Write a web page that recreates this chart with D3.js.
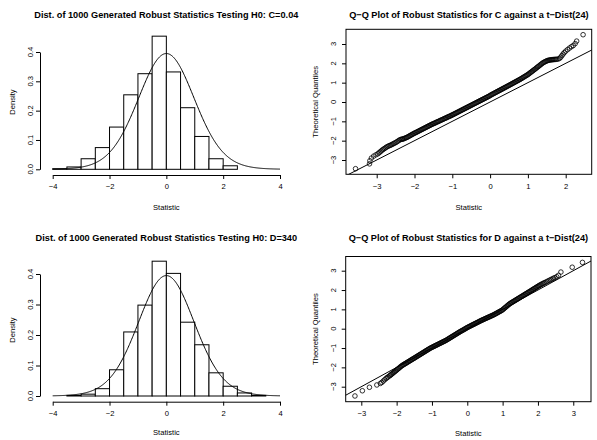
<!DOCTYPE html>
<html>
<head>
<meta charset="utf-8">
<script src="https://cdn.jsdelivr.net/npm/d3@7"></script>
<style>
  body { margin: 0; background: #fff; }
  svg { display: block; }
  text { font-family: "Liberation Sans", Arial, Helvetica, sans-serif; }
</style>
</head>
<body>
<script>
var width = 597,
    height = 440;

// Histogram data (density per bin of width 0.5)
var breaksC = [-4, -3.5, -3, -2.5, -2, -1.5, -1, -0.5, 0, 0.5, 1, 1.5, 2, 2.5];
var densC = [0.002, 0.008, 0.036, 0.074, 0.144, 0.254, 0.326, 0.454, 0.332, 0.21, 0.112, 0.036, 0.012];

var breaksD = [-3.5, -3, -2.5, -2, -1.5, -1, -0.5, 0, 0.5, 1, 1.5, 2, 2.5, 3, 3.5];
var densD = [0.002, 0.006, 0.024, 0.086, 0.21, 0.298, 0.442, 0.402, 0.242, 0.168, 0.076, 0.032, 0.01, 0.002];

var tDf = 24;

var histTicksX = [-4, -2, 0, 2, 4];
var histTicksY = [0, 0.1, 0.2, 0.3, 0.4];
var qqTicksXC = [-3, -2, -1, 0, 1, 2];
var qqTicksXD = [-3, -2, -1, 0, 1, 2, 3];
var qqTicksY = [-3, -2, -1, 0, 1, 2, 3];

// Q-Q points: [statistic, theoretical quantile]
var qqC = [
  [-3.56,-3.45],[-3.19,-3.20],[-3.18,-3.04],[-3.14,-2.90],[-3.08,-2.80],[-3.02,-2.73],
  [-2.97,-2.68],[-2.94,-2.63],[-2.91,-2.58],[-2.88,-2.53],[-2.85,-2.48],[-2.82,-2.44],[-2.79,-2.40],
  [-2.76,-2.36],[-2.73,-2.32],[-2.70,-2.29],[-2.67,-2.26],[-2.64,-2.24],[-2.61,-2.21],[-2.58,-2.18],
  [-2.55,-2.15],[-2.52,-2.12],[-2.49,-2.09],[-2.46,-2.05],[-2.43,-2.01],[-2.40,-1.97],[-2.37,-1.94],
  [-2.34,-1.93],[-2.32,-1.92],
  [-2.300,-1.910],[-2.275,-1.890],[-2.250,-1.870],[-2.225,-1.850],[-2.200,-1.830],[-2.175,-1.803],
  [-2.150,-1.775],[-2.125,-1.748],[-2.100,-1.720],[-2.075,-1.693],[-2.050,-1.665],[-2.025,-1.638],
  [-2.000,-1.610],[-1.975,-1.590],[-1.950,-1.565],[-1.925,-1.540],[-1.900,-1.515],[-1.875,-1.490],
  [-1.850,-1.465],[-1.825,-1.440],[-1.800,-1.415],[-1.775,-1.390],[-1.750,-1.365],[-1.725,-1.340],
  [-1.700,-1.315],[-1.675,-1.290],[-1.650,-1.265],[-1.625,-1.240],[-1.600,-1.215],[-1.575,-1.190],
  [-1.550,-1.165],[-1.525,-1.140],[-1.500,-1.120],[-1.475,-1.100],[-1.450,-1.080],[-1.425,-1.050],
  [-1.400,-1.030],[-1.375,-1.010],[-1.350,-0.990],[-1.325,-0.960],[-1.300,-0.940],[-1.275,-0.920],
  [-1.250,-0.900],[-1.225,-0.870],[-1.200,-0.850],[-1.175,-0.830],[-1.150,-0.810],[-1.125,-0.780],
  [-1.100,-0.760],[-1.075,-0.740],[-1.050,-0.720],[-1.025,-0.690],[-1.000,-0.670],[-0.975,-0.645],
  [-0.950,-0.620],[-0.925,-0.595],[-0.900,-0.570],[-0.875,-0.545],[-0.850,-0.520],[-0.825,-0.495],
  [-0.800,-0.470],[-0.775,-0.445],[-0.750,-0.420],[-0.725,-0.395],[-0.700,-0.370],[-0.675,-0.345],
  [-0.650,-0.320],[-0.625,-0.295],[-0.600,-0.270],[-0.575,-0.245],[-0.550,-0.220],[-0.525,-0.195],
  [-0.500,-0.170],[-0.475,-0.145],[-0.450,-0.120],[-0.425,-0.095],[-0.400,-0.070],[-0.375,-0.045],
  [-0.350,-0.020],[-0.325,0.005],[-0.300,0.030],[-0.275,0.055],[-0.250,0.080],[-0.225,0.105],
  [-0.200,0.130],[-0.175,0.155],[-0.150,0.180],[-0.125,0.205],[-0.100,0.230],[-0.075,0.255],
  [-0.050,0.280],[-0.025,0.305],[0.000,0.335],[0.025,0.366],[0.050,0.392],[0.075,0.418],
  [0.100,0.444],[0.125,0.470],[0.150,0.496],[0.175,0.522],[0.200,0.548],[0.225,0.574],
  [0.250,0.600],[0.275,0.626],[0.300,0.652],[0.325,0.678],[0.350,0.704],[0.375,0.730],
  [0.400,0.756],[0.425,0.782],[0.450,0.808],[0.475,0.834],[0.500,0.860],[0.525,0.887],
  [0.550,0.913],[0.575,0.940],[0.600,0.967],[0.625,0.993],[0.650,1.020],[0.675,1.047],
  [0.700,1.073],[0.725,1.100],[0.750,1.127],[0.775,1.153],[0.800,1.180],[0.825,1.210],
  [0.850,1.240],[0.875,1.270],[0.900,1.300],[0.925,1.330],[0.950,1.360],[0.975,1.390],
  [1.000,1.420],[1.025,1.458],[1.050,1.495],[1.075,1.533],[1.100,1.570],[1.125,1.608],
  [1.150,1.645],[1.175,1.683],[1.200,1.720],[1.225,1.759],[1.250,1.798],[1.275,1.836],
  [1.300,1.875],[1.325,1.914],[1.350,1.953],[1.375,1.991],[1.400,2.030],[1.425,2.055],
  [1.450,2.080],[1.475,2.105],[1.500,2.130],[1.525,2.145],[1.550,2.160],[1.575,2.170],
  [1.600,2.180],[1.625,2.185],[1.650,2.190],[1.675,2.195],[1.700,2.200],[1.730,2.205],
  [1.760,2.210],[1.800,2.220],[1.840,2.260],[1.870,2.320],[1.900,2.400],[1.930,2.480],
  [1.960,2.550],[2.000,2.630],[2.05,2.71],[2.10,2.79],[2.15,2.86],[2.20,2.92],[2.25,3.02],
  [2.29,3.15],[2.46,3.48]
];

var qqD = [
  [-3.18,-3.48],[-2.97,-3.21],[-2.77,-3.03],[-2.56,-2.91],[-2.46,-2.83],[-2.42,-2.78],[-2.38,-2.71],
  [-2.34,-2.64],[-2.30,-2.58],[-2.27,-2.53],[-2.24,-2.49],
  [-2.200,-2.440],[-2.175,-2.403],[-2.150,-2.365],[-2.125,-2.328],[-2.100,-2.290],[-2.075,-2.253],
  [-2.050,-2.215],[-2.025,-2.178],[-2.000,-2.140],[-1.975,-2.102],[-1.950,-2.063],[-1.925,-2.025],
  [-1.900,-1.987],[-1.875,-1.948],[-1.850,-1.910],[-1.825,-1.882],[-1.800,-1.854],[-1.775,-1.826],
  [-1.750,-1.799],[-1.725,-1.771],[-1.700,-1.743],[-1.675,-1.715],[-1.650,-1.687],[-1.625,-1.659],
  [-1.600,-1.631],[-1.575,-1.603],[-1.550,-1.574],[-1.525,-1.547],[-1.500,-1.520],[-1.475,-1.492],
  [-1.450,-1.463],[-1.425,-1.435],[-1.400,-1.407],[-1.375,-1.378],[-1.350,-1.350],[-1.325,-1.322],
  [-1.300,-1.293],[-1.275,-1.265],[-1.250,-1.237],[-1.225,-1.208],[-1.200,-1.180],[-1.175,-1.152],
  [-1.150,-1.123],[-1.125,-1.095],[-1.100,-1.067],[-1.075,-1.038],[-1.050,-1.010],[-1.025,-0.987],
  [-1.000,-0.964],[-0.975,-0.942],[-0.950,-0.919],[-0.925,-0.897],[-0.900,-0.873],[-0.875,-0.851],
  [-0.850,-0.828],[-0.825,-0.806],[-0.800,-0.782],[-0.775,-0.760],[-0.750,-0.737],[-0.725,-0.715],
  [-0.700,-0.691],[-0.675,-0.669],[-0.650,-0.646],[-0.625,-0.624],[-0.600,-0.600],[-0.575,-0.572],
  [-0.550,-0.544],[-0.525,-0.516],[-0.500,-0.488],[-0.475,-0.459],[-0.450,-0.431],[-0.425,-0.403],
  [-0.400,-0.375],[-0.375,-0.347],[-0.350,-0.319],[-0.325,-0.291],[-0.300,-0.263],[-0.275,-0.234],
  [-0.250,-0.206],[-0.225,-0.178],[-0.200,-0.150],[-0.175,-0.124],[-0.150,-0.099],[-0.125,-0.074],
  [-0.100,-0.048],[-0.075,-0.022],[-0.050,0.004],[-0.025,0.034],[0.000,0.060],[0.025,0.083],
  [0.050,0.106],[0.075,0.131],[0.100,0.153],[0.125,0.176],[0.150,0.199],[0.175,0.222],
  [0.200,0.245],[0.225,0.268],[0.250,0.291],[0.275,0.314],[0.300,0.337],[0.325,0.360],
  [0.350,0.384],[0.375,0.407],[0.400,0.430],[0.425,0.451],[0.450,0.471],[0.475,0.492],
  [0.500,0.513],[0.525,0.534],[0.550,0.554],[0.575,0.575],[0.600,0.596],[0.625,0.617],
  [0.650,0.637],[0.675,0.658],[0.700,0.679],[0.725,0.700],[0.750,0.720],[0.775,0.746],
  [0.800,0.771],[0.825,0.796],[0.850,0.821],[0.875,0.847],[0.900,0.872],[0.925,0.897],
  [0.950,0.922],[0.975,0.948],[1.000,0.980],[1.025,1.019],[1.050,1.058],[1.075,1.096],
  [1.100,1.135],[1.125,1.174],[1.150,1.213],[1.175,1.251],[1.200,1.290],[1.225,1.318],
  [1.250,1.346],[1.275,1.374],[1.300,1.402],[1.325,1.430],[1.350,1.458],[1.375,1.486],
  [1.400,1.514],[1.425,1.542],[1.450,1.570],[1.475,1.598],[1.500,1.626],[1.525,1.654],
  [1.550,1.682],[1.575,1.710],[1.600,1.738],[1.625,1.766],[1.650,1.794],[1.675,1.822],
  [1.700,1.850],[1.725,1.879],[1.750,1.907],[1.775,1.936],[1.800,1.964],[1.825,1.993],
  [1.850,2.021],[1.875,2.050],[1.900,2.079],[1.925,2.107],[1.950,2.136],[1.975,2.164],
  [2.000,2.193],[2.025,2.221],[2.050,2.250],[2.08,2.278],[2.11,2.308],[2.14,2.336],
  [2.17,2.364],[2.20,2.390],[2.24,2.428],[2.28,2.462],[2.32,2.500],[2.36,2.536],
  [2.40,2.570],[2.44,2.610],[2.48,2.640],[2.53,2.690],[2.58,2.760],[2.65,2.930],
  [2.97,3.18],[3.26,3.43]
];

var titleHistC = "Dist. of 1000 Generated Robust Statistics Testing H0: C=0.04";
var titleHistD = "Dist. of 1000 Generated Robust Statistics Testing H0: D=340";
var titleQqC = "Q\u2212Q Plot of Robust Statistics for C against a t\u2212Dist(24)";
var titleQqD = "Q\u2212Q Plot of Robust Statistics for D against a t\u2212Dist(24)";

var fontSize = 7.6,
    titleSize = 9.2;

var svg = d3.select("body").append("svg")
            .attr("width", width)
            .attr("height", height);

svg.append("rect").attr("width", width).attr("height", height).attr("fill", "#fff");

// log-gamma (Lanczos)
function lgamma(z) {
  var g = 7, c = [0.99999999999980993, 676.5203681218851, -1259.1392167224028, 771.32342877765313,
    -176.61502916214059, 12.507343278686905, -0.13857109526572012, 9.9843695780195716e-6, 1.5056327351493116e-7];
  z -= 1;
  var a = c[0], t = z + g + 0.5;
  for (var i = 1; i < g + 2; i++) a += c[i] / (z + i);
  return 0.5 * Math.log(2 * Math.PI) + (z + 0.5) * Math.log(t) - t + Math.log(a);
}

// t density
function dt(x, df) {
  var k = Math.exp(lgamma((df + 1) / 2) - lgamma(df / 2)) / Math.sqrt(df * Math.PI);
  return k * Math.pow(1 + x * x / df, -(df + 1) / 2);
}

function rotatedText(g, x, y, txt) {
  return g.append("text")
    .attr("transform", "translate(" + x + "," + y + ")rotate(-90)")
    .attr("text-anchor", "middle")
    .attr("font-size", fontSize)
    .attr("fill", "#000")
    .text(txt);
}

var fmtInt = d3.format("d");

function drawHist(o) {
  var x = d3.scaleLinear().domain([-4, 4]).range([o.x0, o.x1]);
  var y = d3.scaleLinear().domain([0, 0.4]).range([o.base, o.top4]);
  var g = svg.append("g");

  g.append("text")
    .attr("x", (o.x0 + o.x1) / 2)
    .attr("y", o.titleY)
    .attr("text-anchor", "middle")
    .attr("font-weight", "bold")
    .attr("font-size", titleSize)
    .text(o.title);

  g.selectAll("rect.bar")
    .data(o.dens)
    .enter()
    .append("rect")
    .attr("class", "bar")
    .attr("x", function(d, i) { return x(o.breaks[i]); })
    .attr("width", function(d, i) { return x(o.breaks[i + 1]) - x(o.breaks[i]); })
    .attr("y", function(d) { return y(d); })
    .attr("height", function(d) { return y(0) - y(d); })
    .attr("fill", "#fff")
    .attr("stroke", "#000")
    .attr("stroke-width", 1);

  // theoretical t(24) density
  var curve = d3.range(-4, 4.0001, 0.02).map(function(v) { return [v, dt(v, tDf)]; });
  g.append("path")
    .datum(curve)
    .attr("fill", "none")
    .attr("stroke", "#000")
    .attr("stroke-width", 1)
    .attr("d", d3.line().x(function(d) { return x(d[0]); }).y(function(d) { return y(d[1]); }));

  var ax = g.append("g")
    .attr("transform", "translate(0," + o.axisY + ")")
    .call(d3.axisBottom(x).tickValues(histTicksX).tickFormat(fmtInt)
      .tickSize(4).tickSizeOuter(0).tickPadding(5));
  ax.selectAll("text").attr("font-size", fontSize).attr("font-family", null).attr("fill", "#000");

  g.append("g")
    .attr("transform", "translate(" + o.axisX + ",0)")
    .call(d3.axisLeft(y).tickValues(histTicksY).tickSize(4).tickSizeOuter(0).tickFormat(""));
  histTicksY.forEach(function(v) {
    rotatedText(g, o.axisX - 7, y(v), d3.format(".1f")(v));
  });

  g.append("text")
    .attr("x", (o.x0 + o.x1) / 2)
    .attr("y", o.xlabY)
    .attr("text-anchor", "middle")
    .attr("font-size", fontSize)
    .text("Statistic");
  rotatedText(g, 14.5, o.ylabY, "Density");
}

function drawQQ(o) {
  var x = d3.scaleLinear().domain([-3, 2]).range([o.xm3, o.xp2]);
  var y = d3.scaleLinear().domain([-3, 3]).range([o.ym3, o.yp3]);
  var g = svg.append("g");

  g.append("text")
    .attr("x", (o.bx0 + o.bx1) / 2)
    .attr("y", o.titleY)
    .attr("text-anchor", "middle")
    .attr("font-weight", "bold")
    .attr("font-size", titleSize)
    .text(o.title);

  var clipId = "clip" + o.id;
  g.append("clipPath").attr("id", clipId)
    .append("rect")
    .attr("x", o.bx0).attr("y", o.by0)
    .attr("width", o.bx1 - o.bx0).attr("height", o.by1 - o.by0);

  var inner = g.append("g").attr("clip-path", "url(#" + clipId + ")");

  inner.selectAll("circle")
    .data(o.pts)
    .enter()
    .append("circle")
    .attr("cx", function(d) { return x(d[0]); })
    .attr("cy", function(d) { return y(d[1]); })
    .attr("r", 2.3)
    .attr("fill", "none")
    .attr("stroke", "#000")
    .attr("stroke-width", 0.8);

  // reference line y = x
  var lo = x.invert(o.bx0) - 1, hi = x.invert(o.bx1) + 1;
  inner.append("line")
    .attr("x1", x(lo)).attr("y1", y(lo))
    .attr("x2", x(hi)).attr("y2", y(hi))
    .attr("stroke", "#000")
    .attr("stroke-width", 1);

  g.append("rect")
    .attr("x", o.bx0).attr("y", o.by0)
    .attr("width", o.bx1 - o.bx0).attr("height", o.by1 - o.by0)
    .attr("fill", "none")
    .attr("stroke", "#000")
    .attr("stroke-width", 1);

  var ax = g.append("g")
    .attr("transform", "translate(0," + o.by1 + ")")
    .call(d3.axisBottom(x).tickValues(o.ticksX).tickFormat(fmtInt)
      .tickSize(4).tickSizeOuter(0).tickPadding(5));
  ax.select(".domain").remove();
  ax.selectAll("text").attr("font-size", fontSize).attr("font-family", null).attr("fill", "#000");

  var ay = g.append("g")
    .attr("transform", "translate(" + o.bx0 + ",0)")
    .call(d3.axisLeft(y).tickValues(qqTicksY).tickSize(4).tickSizeOuter(0).tickFormat(""));
  ay.select(".domain").remove();
  qqTicksY.forEach(function(v) {
    rotatedText(g, o.bx0 - 10, y(v), fmtInt(v));
  });

  g.append("text")
    .attr("x", (o.bx0 + o.bx1) / 2)
    .attr("y", o.xlabY)
    .attr("text-anchor", "middle")
    .attr("font-size", fontSize)
    .text("Statistic");
  rotatedText(g, 318, (o.by0 + o.by1) / 2, "Theoretical Quantiles");
}

drawHist({ title: titleHistC, breaks: breaksC, dens: densC, x0: 52.7, x1: 280,
           base: 169.3, top4: 52, axisY: 175, axisX: 40, titleY: 18, xlabY: 210, ylabY: 102 });
drawHist({ title: titleHistD, breaks: breaksD, dens: densD, x0: 52.7, x1: 280,
           base: 396, top4: 274, axisY: 401.7, axisX: 40, titleY: 240.5, xlabY: 434.5, ylabY: 330 });

drawQQ({ id: "c", title: titleQqC, pts: qqC, ticksX: qqTicksXC,
         xm3: 376.7, xp2: 565.7, ym3: 160, yp3: 44,
         bx0: 346, bx1: 591.7, by0: 29.3, by1: 174.3, titleY: 18, xlabY: 209.5 });
drawQQ({ id: "d", title: titleQqD, pts: qqD, ticksX: qqTicksXD,
         xm3: 361.3, xp2: 361.3 + 5 * 35.33, ym3: 386.7, yp3: 270.7,
         bx0: 345.7, bx1: 591, by0: 256.5, by1: 401.7, titleY: 240.5, xlabY: 435.5 });
</script>
</body>
</html>
